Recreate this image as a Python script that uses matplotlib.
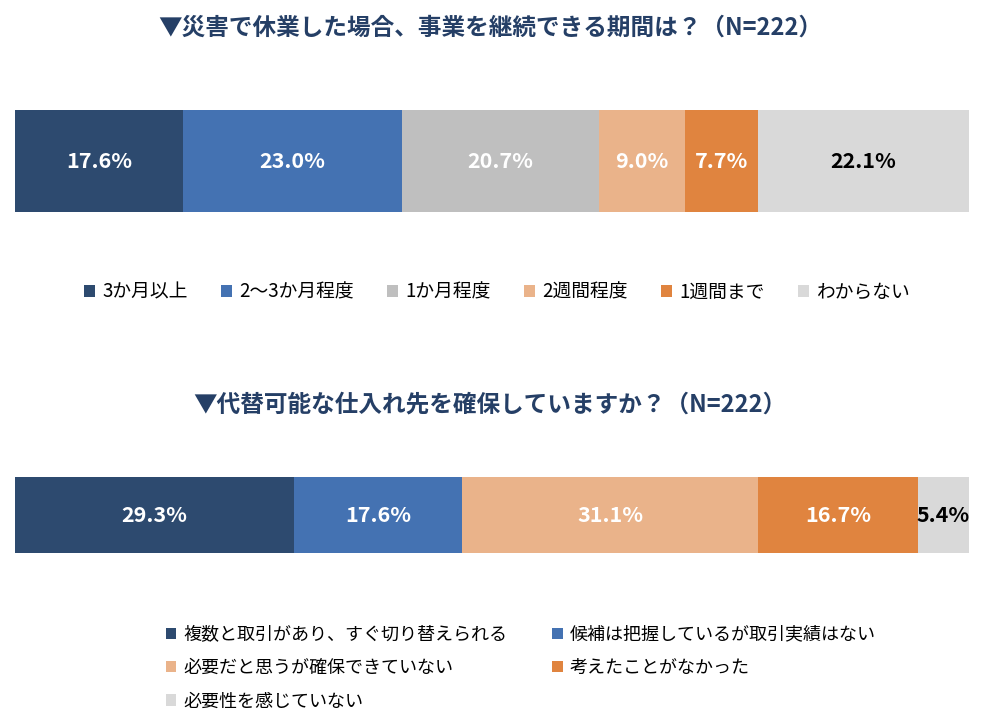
import matplotlib
matplotlib.use("Agg")
import matplotlib.pyplot as plt
from matplotlib.patches import Patch

plt.rcParams['font.family'] = ['Noto Sans CJK JP', 'DejaVu Sans']

# chart 1: how long can the business continue
title1 = "▼災害で休業した場合、事業を継続できる期間は？（N=222）"
labels1 = ["3か月以上", "2～3か月程度", "1か月程度", "2週間程度", "1週間まで", "わからない"]
values1 = [17.6, 23.0, 20.7, 9.0, 7.7, 22.1]
colors1 = ["#2D4A6F", "#4472B2", "#BFBFBF", "#EAB38A", "#E0843F", "#D9D9D9"]
textcol1 = ["white", "white", "white", "white", "white", "black"]

# chart 2: alternative suppliers
title2 = "▼代替可能な仕入れ先を確保していますか？（N=222）"
labels2 = ["複数と取引があり、すぐ切り替えられる", "候補は把握しているが取引実績はない",
           "必要だと思うが確保できていない", "考えたことがなかった", "必要性を感じていない"]
values2 = [29.3, 17.6, 31.1, 16.7, 5.4]
colors2 = ["#2D4A6F", "#4472B2", "#EAB38A", "#E0843F", "#D9D9D9"]
textcol2 = ["white", "white", "white", "white", "black"]

title_color = "#253F66"

fig = plt.figure(figsize=(9.92, 7.26), dpi=100)


def stacked_bar(ax, values, colors, textcols):
    left = 0
    for v, c, tc in zip(values, colors, textcols):
        ax.barh(0, v, left=left, height=1.0, color=c, edgecolor="none")
        ax.text(left + v / 2, 0, f"{v:.1f}%", ha="center", va="center",
                color=tc, fontsize=15.5, fontweight="bold")
        left += v
    ax.set_xlim(0, sum(values))
    ax.set_ylim(-0.5, 0.5)
    ax.axis("off")


ax1 = fig.add_axes([15 / 992, 1 - 212 / 726, 954 / 992, 102 / 726])
stacked_bar(ax1, values1, colors1, textcol1)

ax2 = fig.add_axes([15 / 992, 1 - 553 / 726, 954 / 992, 76 / 726])
stacked_bar(ax2, values2, colors2, textcol2)

fig.text(0.494, 1 - 28 / 726, title1, ha="center", va="center",
         fontsize=17, fontweight="bold", color=title_color)
fig.text(0.494, 1 - 405 / 726, title2, ha="center", va="center",
         fontsize=17, fontweight="bold", color=title_color)

h1 = [Patch(facecolor=c, edgecolor="none") for c in colors1]
fig.legend(h1, labels1, loc="center", bbox_to_anchor=(0.501, 1 - 292 / 726),
           ncol=6, frameon=False, fontsize=13.5, handlelength=0.6, handleheight=0.6,
           handletextpad=0.4, columnspacing=1.75)

h2 = [Patch(facecolor=c, edgecolor="none") for c in colors2]
order = [0, 2, 4, 1, 3]
fig.legend([h2[i] for i in order], [labels2[i] for i in order], loc="center",
           bbox_to_anchor=(0.525, 1 - 668 / 726), ncol=2, frameon=False,
           fontsize=13, handlelength=0.6, handleheight=0.6, handletextpad=0.4,
           columnspacing=2.45, labelspacing=0.85)

fig.savefig("out.png", dpi=100, facecolor="white")
